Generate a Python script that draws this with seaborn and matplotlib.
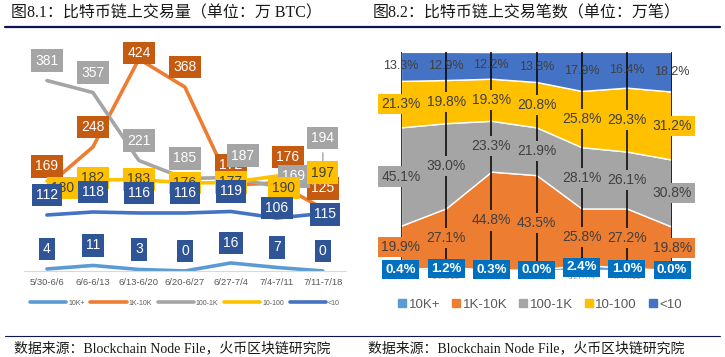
import numpy as np
import pandas as pd
import matplotlib
matplotlib.use("Agg")
import matplotlib.pyplot as plt
import seaborn as sns
from matplotlib.lines import Line2D
from matplotlib.patches import Patch

sns.set_theme(style="white")
plt.rcParams['font.family'] = ['Liberation Sans', 'Noto Sans CJK SC', 'DejaVu Sans']

weeks = ["5/30-6/6", "6/6-6/13", "6/13-6/20", "6/20-6/27", "6/27-7/4", "7/4-7/11", "7/11-7/18"]
series = ["10K+", "1K-10K", "100-1K", "10-100", "<10"]

# 交易量（万 BTC）
vol_10k = [4, 11, 3, 0, 16, 7, 0]
vol_1k = [169, 248, 424, 368, 172, 176, 125]
vol_100 = [381, 357, 221, 185, 187, 169, 194]
vol_10 = [180, 182, 183, 176, 177, 190, 197]
vol_lt10 = [112, 118, 116, 116, 119, 106, 115]

# 交易笔数占比（%）
pct_10k = [0.4, 1.2, 0.3, 0.0, 2.4, 1.0, 0.0]
pct_1k = [19.9, 27.1, 44.8, 43.5, 25.8, 27.2, 19.8]
pct_100 = [45.1, 39.0, 23.3, 21.9, 28.1, 26.1, 30.8]
pct_10 = [21.3, 19.8, 19.3, 20.8, 25.8, 29.3, 31.2]
pct_lt10 = [13.3, 12.9, 12.2, 13.8, 17.9, 16.4, 18.2]

line_colors = ["#5B9BD5", "#ED7D31", "#A5A5A5", "#FFC000", "#4472C4"]
lbl_bg_left = ["#2F5597", "#C55A11", "#A5A5A5", "#FFC000", "#2F5597"]
lbl_fg_left = ["white", "white", "white", "#404040", "white"]
area_colors = ["#5B9BD5", "#ED7D31", "#A5A5A5", "#FFC000", "#4472C4"]
lbl_bg_right = ["#0070C0", "#ED7D31", "#A5A5A5", "#FFC000", None]

vols = [vol_10k, vol_1k, vol_100, vol_10, vol_lt10]
pcts = [pct_10k, pct_1k, pct_100, pct_10, pct_lt10]

fig = plt.figure(figsize=(7.25, 3.57), dpi=100)

# ---------- left: line chart ----------
ax1 = fig.add_axes([0.033, 0.241, 0.444, 0.630])
df = pd.DataFrame({
    "idx": np.tile(np.arange(len(weeks)), len(series)),
    "value": np.concatenate(vols),
    "series": np.repeat(series, len(weeks)),
})
sns.lineplot(data=df, x="idx", y="value", hue="series", hue_order=series,
             palette=line_colors, linewidth=2.6, legend=False, ax=ax1, zorder=2)
ax1.set_xlim(-0.5, 6.5)
ax1.set_ylim(0, 450)
ax1.set_yticks([])
ax1.set_xlabel("")
ax1.set_ylabel("")
ax1.set_xticks(range(len(weeks)))
ax1.set_xticklabels(weeks, fontsize=6.8, color="#595959")
ax1.tick_params(axis="x", length=0, pad=5)
for s in ["top", "right", "left"]:
    ax1.spines[s].set_visible(False)
ax1.spines["bottom"].set_color("#D9D9D9")
ax1.spines["bottom"].set_linewidth(0.8)

# label nudges in pixels (dx, dy)
base_dy = [20, 20, 20, 0, 20]
nudge = {
    (1, 2): (0, 6), (1, 5): (11, 26),
    (2, 4): (12, 22), (2, 5): (17, 10), (2, 6): (0, 36),
    (3, 0): (16, -7), (3, 1): (0, 2), (3, 5): (7, -12),
    (4, 5): (0, 10), (4, 6): (2, -1),
}
for si, vals in enumerate(vols):
    for xi, v in enumerate(vals):
        dx, dy = nudge.get((si, xi), (0, base_dy[si]))
        ax1.annotate(str(v), (xi, v), xytext=(dx, dy), textcoords="offset pixels",
                     ha="center", va="center", fontsize=10, color=lbl_fg_left[si],
                     zorder=5 + si,
                     bbox=dict(boxstyle="square,pad=0.3", fc=lbl_bg_left[si], ec="none"))
# leader line for the 194 label
ax1.annotate("", (6, vol_100[6]), xytext=(0, 24), textcoords="offset pixels",
             arrowprops=dict(arrowstyle="-", color="#A5A5A5", lw=1), zorder=4)

handles = [Line2D([0], [0], color=c, lw=2.6) for c in line_colors]
fig.legend(handles, series, loc="center", bbox_to_anchor=(0.255, 0.151), ncol=5,
           frameon=False, fontsize=5, handlelength=5.2, columnspacing=0.8,
           handletextpad=0.3, labelcolor="#595959")

# ---------- right: 100% stacked area ----------
ax2 = fig.add_axes([0.553, 0.2437, 0.374, 0.611])
xs = np.arange(len(weeks))
ax2.stackplot(xs, *pcts, colors=area_colors, zorder=1)
ax2.vlines(xs, 0, 100, color="black", lw=1.1, zorder=2)
ax2.set_xlim(0, 6)
ax2.set_ylim(0, 100)
ax2.set_yticks([])
ax2.set_xticks(xs)
ax2.set_xticklabels(weeks, fontsize=5.5, color="#A6A6A6")
ax2.tick_params(axis="x", length=0, pad=3)
sns.despine(ax=ax2, left=True, bottom=True)

bottoms = np.zeros(len(weeks))
for si, vals in enumerate(pcts):
    vals = np.array(vals)
    centers = bottoms + vals / 2
    for xi in range(len(weeks)):
        txt = f"{vals[xi]:.1f}%"
        if si == 0:
            ax2.text(xi, centers[xi], txt, ha="center", va="center", fontsize=9.5,
                     fontweight="bold", color="white", zorder=5,
                     bbox=dict(boxstyle="square,pad=0.25", fc=lbl_bg_right[si], ec="none"))
        elif si == 4:
            ax2.text(xi, centers[xi], txt, ha="center", va="center", fontsize=9,
                     color="#404040", zorder=5)
        else:
            ax2.text(xi, centers[xi], txt, ha="center", va="center", fontsize=10,
                     color="#404040", zorder=4,
                     bbox=dict(boxstyle="square,pad=0.22", fc=lbl_bg_right[si], ec="none"))
    bottoms = bottoms + vals

patches = [Patch(color=c) for c in area_colors]
fig.legend(patches, series, loc="center", bbox_to_anchor=(0.745, 0.146), ncol=5,
           frameon=False, fontsize=9.5, handlelength=0.6, handleheight=0.6,
           columnspacing=0.9, handletextpad=0.2, labelcolor="#595959")

# ---------- titles, rules and sources ----------
title_font = ['Liberation Serif', 'Noto Sans CJK SC']
fig.text(11 / 725, 1 - 13 / 357, "图8.1：比特币链上交易量（单位：万 BTC）", family=title_font,
         fontsize=11.5, va="center", ha="left", color="#1a1a1a")
fig.text(373 / 725, 1 - 13 / 357, "图8.2：比特币链上交易笔数（单位：万笔）", family=title_font,
         fontsize=11.5, va="center", ha="left", color="#1a1a1a")
fig.add_artist(Line2D([5 / 725, 720 / 725], [1 - 27 / 357] * 2, color="#0D1650", lw=1.6))
fig.add_artist(Line2D([5 / 725, 720 / 725], [1 - 336 / 357] * 2, color="#0D1650", lw=0.8))
src = "数据来源：Blockchain Node File，火币区块链研究院"
fig.text(14 / 725, 1 - 348 / 357, src, family=title_font, fontsize=10,
         va="center", ha="left", color="#1a1a1a")
fig.text(368 / 725, 1 - 348 / 357, src, family=title_font, fontsize=10,
         va="center", ha="left", color="#1a1a1a")

fig.savefig("out.png", dpi=100)
